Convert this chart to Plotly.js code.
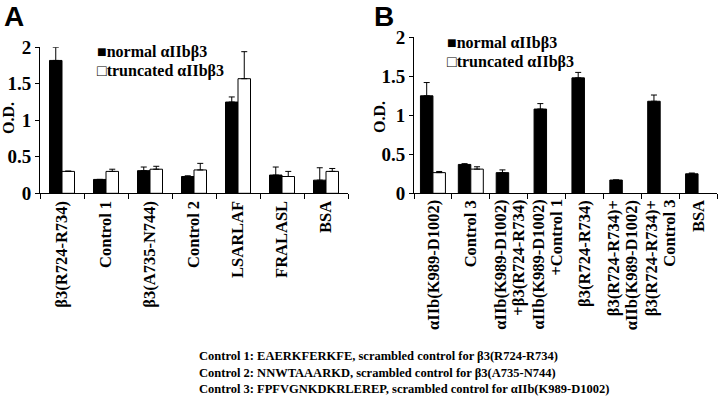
<!DOCTYPE html>
<html><head><meta charset="utf-8">
<script src="https://cdn.plot.ly/plotly-3.0.1.min.js"></script>
<style>body{margin:0;background:#fff}#c{width:720px;height:414px}</style>
</head><body><div id="c"></div>
<script>
// Panel A data
const catsA = ['β3(R724-R734)','Control 1','β3(A735-N744)','Control 2','LSARLAF','FRALASL','BSA'];
const normalA = [1.82, 0.19, 0.31, 0.23, 1.25, 0.25, 0.18];
const normalErrA = [0.18, 0.0, 0.05, 0.01, 0.07, 0.11, 0.17];
const truncA = [0.30, 0.30, 0.33, 0.32, 1.57, 0.23, 0.30];
const truncErrA = [0.005, 0.03, 0.04, 0.09, 0.37, 0.07, 0.04];

// Panel B data (category keys; label lines below)
const catsB = ['αIIb(K989-D1002)','Control 3','αIIb(K989-D1002) +β3(R724-R734)','αIIb(K989-D1002) +Control 1','β3(R724-R734)','β3(R724-R734)+ αIIb(K989-D1002)','β3(R724-R734)+ Control 3','BSA'];
const labelLine1B = ['αIIb(K989-D1002)','Control 3','αIIb(K989-D1002)','αIIb(K989-D1002)','β3(R724-R734)','β3(R724-R734)+','β3(R724-R734)+','BSA'];
const labelLine2B = ['','','+β3(R724-R734)','+Control 1','','αIIb(K989-D1002)','Control 3',''];
const normalB = [1.25, 0.37, 0.265, 1.08, 1.48, 0.17, 1.18, 0.25];
const normalErrB = [0.17, 0.01, 0.035, 0.07, 0.07, 0, 0.08, 0.01];
const truncB = [0.265, 0.31, null, null, null, null, null, null];
const truncErrB = [0.015, 0.03, null, null, null, null, null, null];

const legendLabels = ['■normal αIIbβ3','□truncated αIIbβ3'];
const footnotes = [
  'Control 1: EAERKFERKFE, scrambled control for β3(R724-R734)',
  'Control 2: NNWTAAARKD, scrambled control for β3(A735-N744)',
  'Control 3: FPFVGNKDKRLEREP, scrambled control for αIIb(K989-D1002)'
];

const W = 720, H = 414;
const px = v => v / W, py = v => 1 - v / H;
const wA = 12.5 / 44, wB = 12.5 / 37.9;

function errY(arr){
  return {type:'data', array: arr, arrayminus: arr.map(v => v == null ? null : 0), symmetric:false, color:'black', thickness:1, width:3};
}

const traces = [
  {type:'bar', x:catsA, y:normalA, xaxis:'x', yaxis:'y', width:wA, offset:-wA,
   marker:{color:'black', line:{color:'black', width:1}}, error_y: errY(normalErrA), name:'normal αIIbβ3'},
  {type:'bar', x:catsA, y:truncA, xaxis:'x', yaxis:'y', width:wA, offset:0,
   marker:{color:'white', line:{color:'black', width:1}}, error_y: errY(truncErrA), name:'truncated αIIbβ3'},
  {type:'bar', x:catsB, y:normalB, xaxis:'x2', yaxis:'y2', width:wB, offset:-wB,
   marker:{color:'black', line:{color:'black', width:1}}, error_y: errY(normalErrB), name:'normal αIIbβ3'},
  {type:'bar', x:catsB, y:truncB, xaxis:'x2', yaxis:'y2', width:wB, offset:0,
   marker:{color:'white', line:{color:'black', width:1}}, error_y: errY(truncErrB), name:'truncated αIIbβ3'}
];

const serif = 'Liberation Serif, Times New Roman, serif';
const xTickFont = {family:serif, size:16.5, weight:'bold', color:'black'};
const yTickFont = {family:serif, size:19, weight:'bold', color:'black'};
const xBase = {type:'category', showline:true, linecolor:'black', linewidth:1, ticks:'outside', tickson:'boundaries',
  ticklen:5, tickcolor:'black', tickangle:-90, tickfont:xTickFont,
  showgrid:false, zeroline:false, fixedrange:true};
const yBase = {range:[0,2], tickvals:[0,0.5,1,1.5,2], ticktext:['0','0.5','1','1.5','2'], showline:true, linecolor:'black',
  linewidth:1, ticks:'outside', ticklen:4, tickcolor:'black', showgrid:false, zeroline:false,
  tickfont:yTickFont, fixedrange:true};

const annFont = {family:serif, size:16, weight:'bold', color:'black'};
const annotations = [
  {text:'A', x:px(2), y:py(17), xref:'paper', yref:'paper', xanchor:'left', yanchor:'middle', showarrow:false,
   font:{family:'Liberation Sans, Arial, sans-serif', size:28, weight:'bold', color:'black'}},
  {text:'B', x:px(372), y:py(17), xref:'paper', yref:'paper', xanchor:'left', yanchor:'middle', showarrow:false,
   font:{family:'Liberation Sans, Arial, sans-serif', size:28, weight:'bold', color:'black'}},
  {text:'O.D.', x:px(9), y:py(118), xref:'paper', yref:'paper', xanchor:'center', yanchor:'middle', textangle:-90, showarrow:false, font:annFont},
  {text:'O.D.', x:px(380), y:py(117), xref:'paper', yref:'paper', xanchor:'center', yanchor:'middle', textangle:-90, showarrow:false, font:annFont},
  {text:legendLabels[0], x:px(95), y:py(52), xref:'paper', yref:'paper', xanchor:'left', yanchor:'middle', showarrow:false, font:annFont},
  {text:legendLabels[1], x:px(95), y:py(71), xref:'paper', yref:'paper', xanchor:'left', yanchor:'middle', showarrow:false, font:annFont},
  {text:legendLabels[0], x:px(445), y:py(43), xref:'paper', yref:'paper', xanchor:'left', yanchor:'middle', showarrow:false, font:annFont},
  {text:legendLabels[1], x:px(445), y:py(62), xref:'paper', yref:'paper', xanchor:'left', yanchor:'middle', showarrow:false, font:annFont}
];
// Panel B category labels (two-line ones drawn with tighter line spacing)
catsB.forEach((c, i) => {
  const two = labelLine2B[i] !== '';
  annotations.push({text:labelLine1B[i], x:c, xref:'x2', y:py(199), yref:'paper', xanchor:'center', yanchor:'top',
    textangle:-90, xshift: two ? -9 : 0, showarrow:false, borderpad:0, font:xTickFont});
  if (two) annotations.push({text:labelLine2B[i], x:c, xref:'x2', y:py(199), yref:'paper', xanchor:'center', yanchor:'top',
    textangle:-90, xshift:9, showarrow:false, borderpad:0, font:xTickFont});
});
footnotes.forEach((t, i) => annotations.push({text:t, x:px(197), y:py(356 + i*16.5), xref:'paper', yref:'paper',
  xanchor:'left', yanchor:'middle', showarrow:false, font:{family:serif, size:12.5, weight:'bold', color:'black'}}));

const layout = {
  width:W, height:H, margin:{l:0,r:0,t:0,b:0}, paper_bgcolor:'white', plot_bgcolor:'white', showlegend:false,
  barmode:'overlay',
  xaxis: Object.assign({}, xBase, {domain:[px(40), px(348)], anchor:'y', range:[-0.5, 6.5]}),
  yaxis: Object.assign({}, yBase, {domain:[py(193.3), py(47.3)], anchor:'x'}),
  xaxis2: Object.assign({}, xBase, {domain:[px(414), px(717)], anchor:'y2', range:[-0.5, 7.5], showticklabels:false}),
  yaxis2: Object.assign({}, yBase, {domain:[py(193.3), py(37.3)], anchor:'x2'}),
  annotations: annotations
};
Plotly.newPlot('c', traces, layout, {staticPlot:true, displayModeBar:false});
</script></body></html>
